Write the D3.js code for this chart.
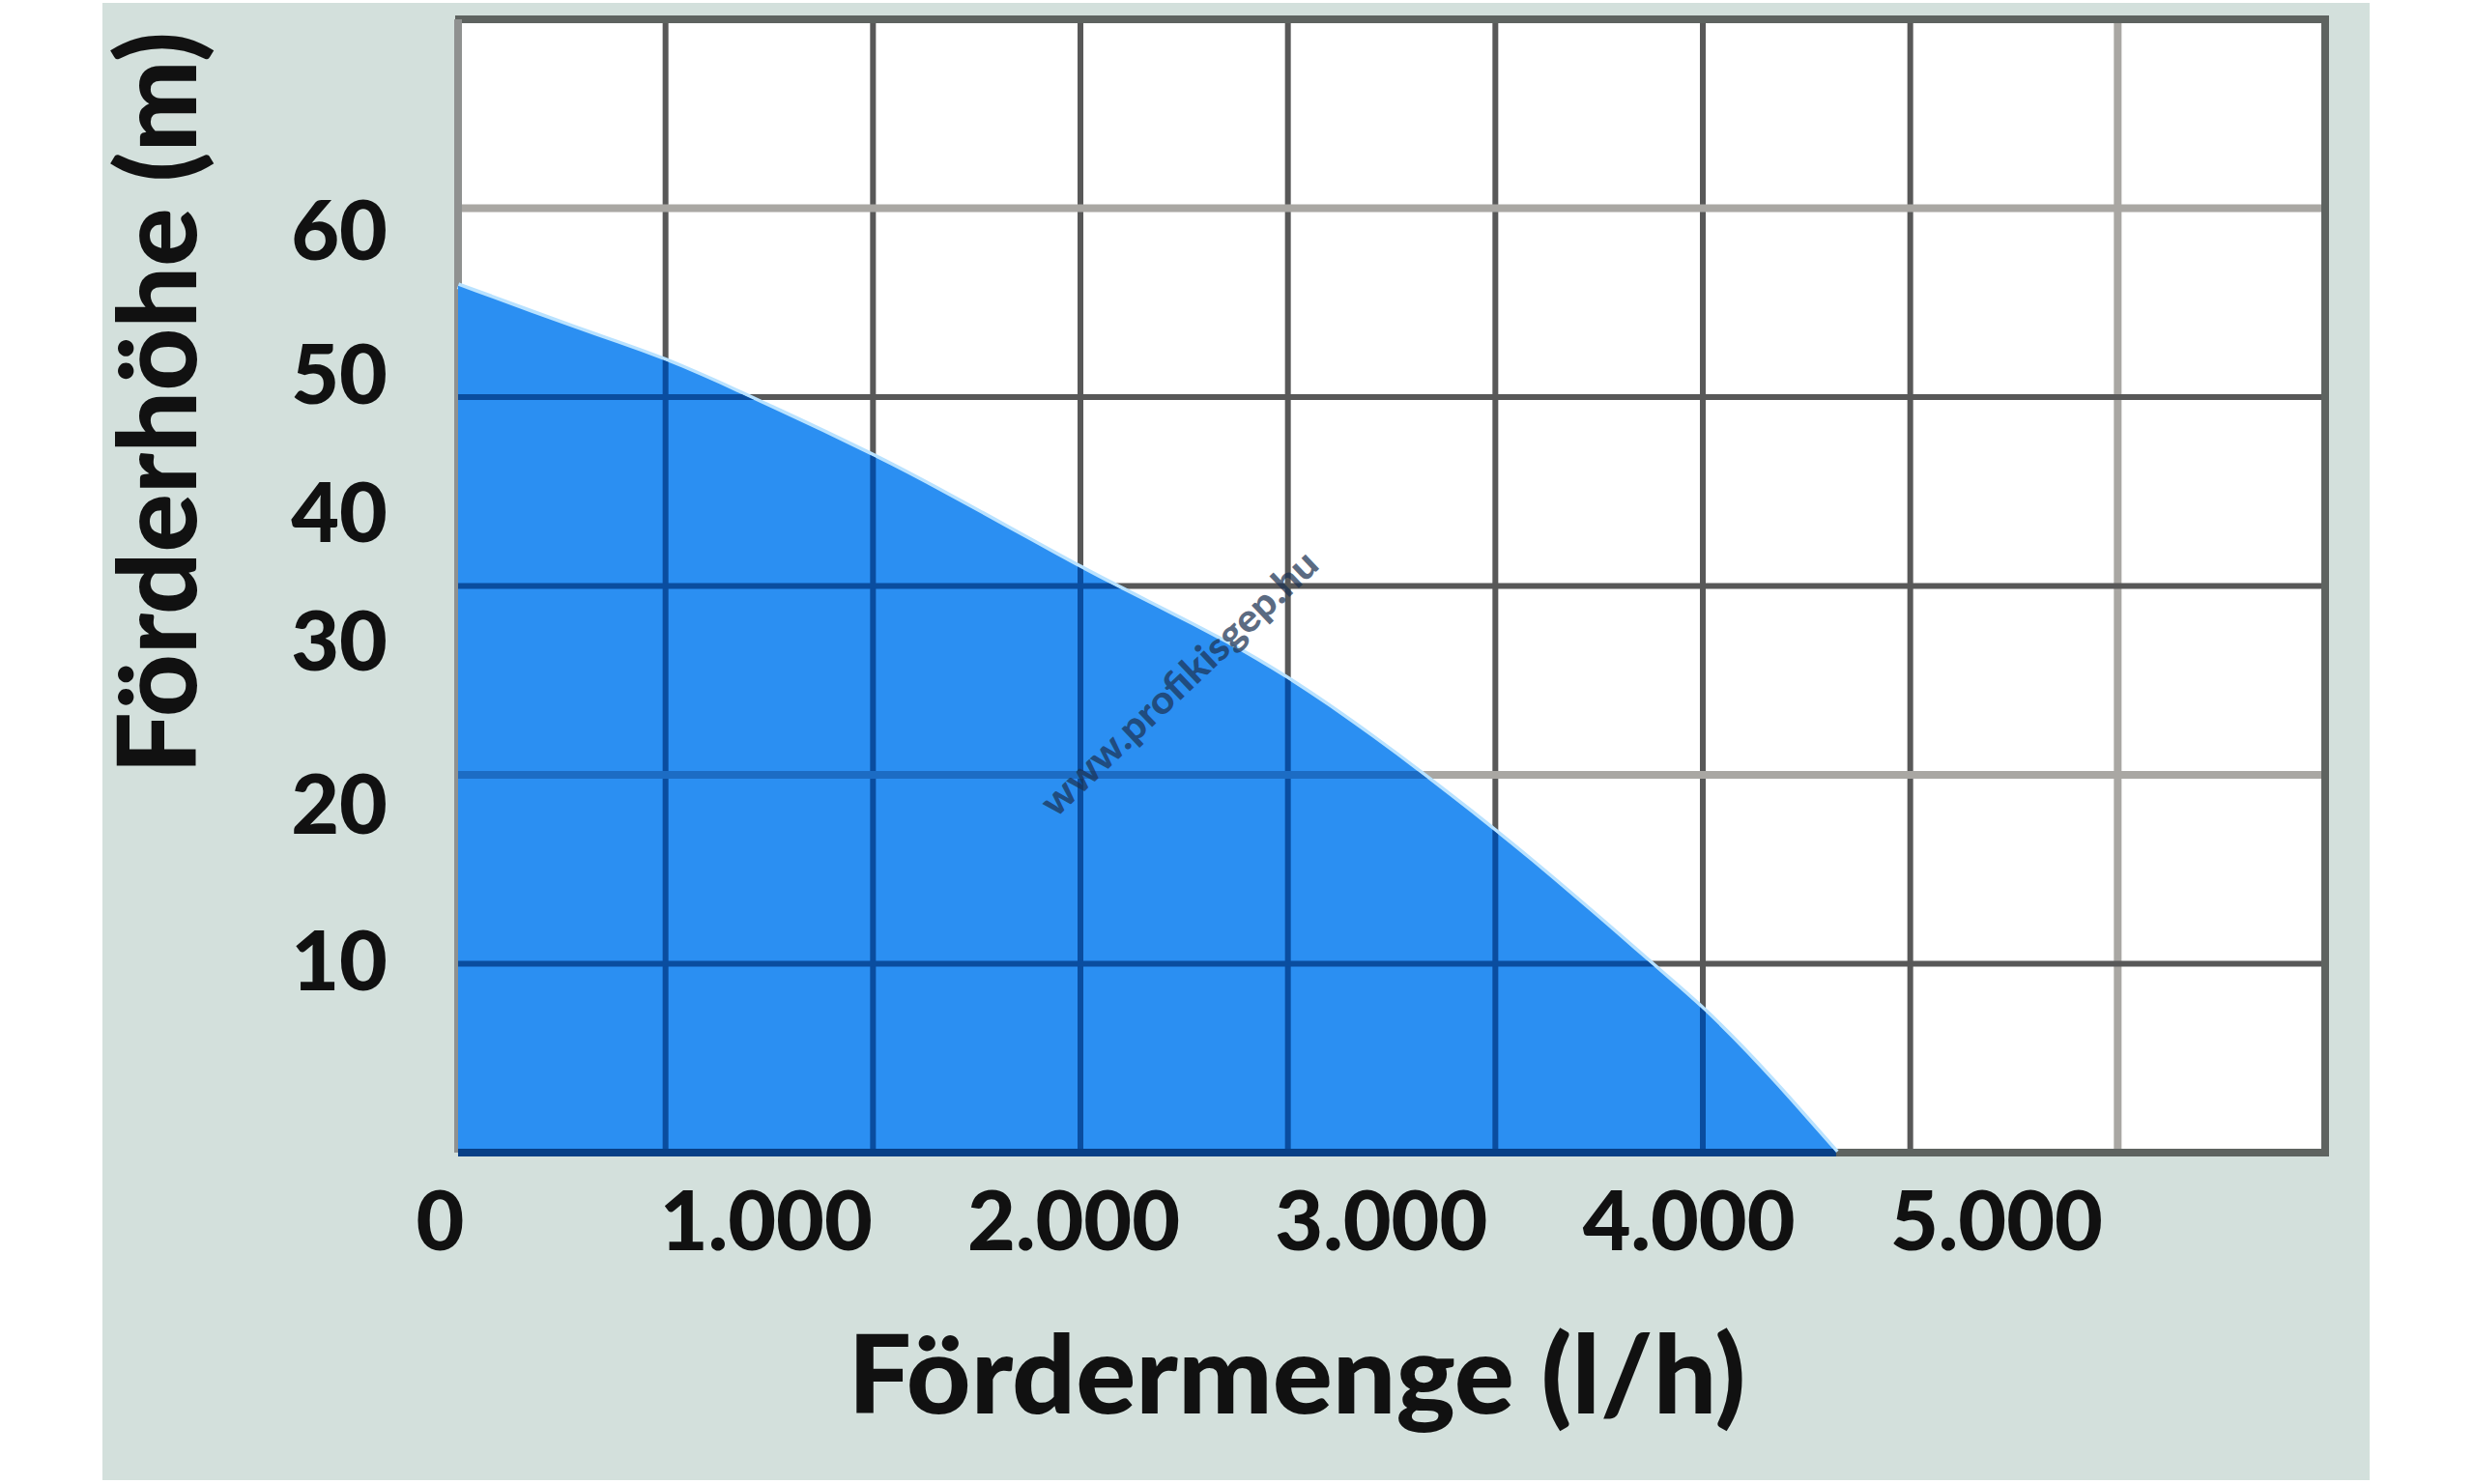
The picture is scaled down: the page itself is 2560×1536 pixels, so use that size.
<!DOCTYPE html>
<html>
<head>
<meta charset="utf-8">
<script src="https://cdn.jsdelivr.net/npm/d3@7"></script>
<style>
  html, body { margin: 0; padding: 0; background: #ffffff; }
  svg { display: block; }
  text { font-family: "Lato", "Open Sans", sans-serif; font-weight: 900; fill: #111; }
</style>
</head>
<body>
<svg id="chart" width="2560" height="1536"></svg>
<script>
// ---------------- data ----------------
const flowLh = [0, 370, 670, 1020, 1350, 2020, 2690, 3360, 3890, 4050, 4480];   // Fördermenge (l/h)
const headM  = [56.3, 53.4, 51.1, 47.7, 44.2, 35.9, 27.9, 18.6, 9.8, 7.5, 0];   // Förderhöhe (m)
const xTickValues = [0, 1000, 2000, 3000, 4000, 5000];
const xTickLabels = ["0", "1.000", "2.000", "3.000", "4.000", "5.000"];
const yTickValues = [10, 20, 30, 40, 50, 60];
const yTickLabels = ["10", "20", "30", "40", "50", "60"];
const xTitle = "Fördermenge (l/h)";
const yTitle = "Förderhöhe (m)";
const watermark = "www.profikisgep.hu";

// ---------------- layout ----------------
const W = 2560, H = 1536;
const panel = { x: 106, y: 3, w: 2346, h: 1529 };
const plot = { left: 474, right: 2406, top: 20, bottom: 1193 };
const xMax = 6070;
// the printed value labels on the vertical axis are not evenly spaced: piecewise scale
const yStops = [0, 10, 20, 30, 40, 50, 60, 74.7];
const yStopFrac = [0, 0.167, 0.305, 0.449, 0.563, 0.685, 0.812, 1];
const gridCols = 9, gridRows = 6;

const svg = d3.select("#chart");

const x = d3.scaleLinear().domain([0, xMax]).range([plot.left, plot.right]);
const y = d3.scaleLinear().domain(yStops)
  .range(yStopFrac.map(f => plot.bottom - f * (plot.bottom - plot.top)));
const gx = d3.scaleLinear().domain([0, gridCols]).range([plot.left, plot.right]);
const gy = d3.scaleLinear().domain([0, gridRows]).range([plot.bottom, plot.top]);

const data = flowLh.map((q, i) => ({ q, h: headM[i] }));

// panel background
svg.append("rect").attr("x", panel.x).attr("y", panel.y)
  .attr("width", panel.w).attr("height", panel.h).attr("fill", "#d3e0dc");

// plot background
svg.append("rect").attr("x", plot.left).attr("y", plot.top)
  .attr("width", plot.right - plot.left).attr("height", plot.bottom - plot.top)
  .attr("fill", "#ffffff");

const lightV = new Set([8]);
const lightH = new Set([2, 5]);
const vIdx = d3.range(1, gridCols);
const hIdx = d3.range(1, gridRows);

function drawGrid(g, dark, light, width) {
  g.selectAll("line.v").data(vIdx).join("line").attr("class", "v")
    .attr("x1", d => gx(d)).attr("x2", d => gx(d))
    .attr("y1", plot.top).attr("y2", plot.bottom)
    .attr("stroke", d => lightV.has(d) ? light : dark)
    .attr("stroke-width", d => lightV.has(d) ? width + 2 : width);
  g.selectAll("line.h").data(hIdx).join("line").attr("class", "h")
    .attr("y1", d => gy(d)).attr("y2", d => gy(d))
    .attr("x1", plot.left).attr("x2", plot.right)
    .attr("stroke", d => lightH.has(d) ? light : dark)
    .attr("stroke-width", d => lightH.has(d) ? width + 2 : width);
}

// gray grid
const gridGray = svg.append("g");
drawGrid(gridGray, "#585858", "#a9a7a3", 6);

// borders
const borders = svg.append("g").attr("fill", "none");
borders.append("line").attr("x1", plot.left - 3).attr("x2", plot.right + 4)
  .attr("y1", plot.top).attr("y2", plot.top).attr("stroke", "#5e6360").attr("stroke-width", 8);
borders.append("line").attr("x1", plot.right).attr("x2", plot.right)
  .attr("y1", plot.top).attr("y2", plot.bottom + 4).attr("stroke", "#5e6360").attr("stroke-width", 8);
borders.append("line").attr("x1", plot.left).attr("x2", plot.right + 4)
  .attr("y1", plot.bottom).attr("y2", plot.bottom).attr("stroke", "#5e6360").attr("stroke-width", 8);
borders.append("line").attr("x1", plot.left).attr("x2", plot.left)
  .attr("y1", plot.top).attr("y2", plot.bottom).attr("stroke", "#8f9190").attr("stroke-width", 8);

// performance area
const area = d3.area().curve(d3.curveMonotoneX)
  .x(d => x(d.q)).y0(y(0)).y1(d => y(d.h));
const edge = d3.line().curve(d3.curveMonotoneX).x(d => x(d.q)).y(d => y(d.h));

svg.append("path").datum(data).attr("d", edge)
  .attr("fill", "none").attr("stroke", "#b9e2ff").attr("stroke-width", 7);
svg.append("path").datum(data).attr("d", area).attr("fill", "#2b8ff2");

// clip for the dark-blue grid inside the area
const clipArea = d3.area().curve(d3.curveMonotoneX)
  .x(d => x(d.q)).y0(y(0) + 5).y1(d => y(d.h));
svg.append("clipPath").attr("id", "areaClip")
  .append("path").datum(data).attr("d", clipArea);

const gridBlue = svg.append("g").attr("clip-path", "url(#areaClip)");
drawGrid(gridBlue, "#0a4d9f", "#1c6cc4", 6);
gridBlue.append("line").attr("x1", plot.left).attr("x2", plot.right)
  .attr("y1", plot.bottom).attr("y2", plot.bottom)
  .attr("stroke", "#073f86").attr("stroke-width", 8);

// watermark
const wm = svg.append("g").attr("transform", "translate(1220,707) rotate(-43.5)");
wm.append("text").attr("text-anchor", "middle").attr("dy", "0.35em")
  .attr("font-size", 40).attr("textLength", 378).attr("lengthAdjust", "spacingAndGlyphs")
  .style("font-weight", 900)
  .style("fill", "#1c3252").style("fill-opacity", 0.72)
  .text(watermark);

// axes
const xAxis = d3.axisBottom(x).tickValues(xTickValues)
  .tickFormat((d, i) => xTickLabels[i]).tickSize(0).tickPadding(40);
const gxAxis = svg.append("g").attr("transform", `translate(0,${plot.bottom})`).call(xAxis);
gxAxis.select(".domain").remove();
gxAxis.selectAll("text").attr("font-size", 86).attr("font-family", null)
  .style("fill", "#111")
  .attr("dx", (d, i) => i === 0 ? -19 : 0);

const yAxis = d3.axisLeft(y).tickValues(yTickValues)
  .tickFormat((d, i) => yTickLabels[i]).tickSize(0).tickPadding(73);
const gyAxis = svg.append("g").attr("transform", `translate(${plot.left},0)`).call(yAxis);
gyAxis.select(".domain").remove();
gyAxis.selectAll("text").attr("font-size", 86).attr("font-family", null).style("fill", "#111");
svg.selectAll(".tick text").style("font-weight", 900).style("font-family", "Lato, 'Open Sans', sans-serif");

// titles
svg.append("text").attr("x", 1342).attr("y", 1463).attr("text-anchor", "middle")
  .attr("font-size", 112).attr("textLength", 929).attr("lengthAdjust", "spacingAndGlyphs")
  .text(xTitle);
svg.append("text").attr("transform", "translate(203,417) rotate(-90)").attr("text-anchor", "middle")
  .attr("font-size", 112).attr("textLength", 768).attr("lengthAdjust", "spacingAndGlyphs")
  .text(yTitle);
</script>
</body>
</html>
